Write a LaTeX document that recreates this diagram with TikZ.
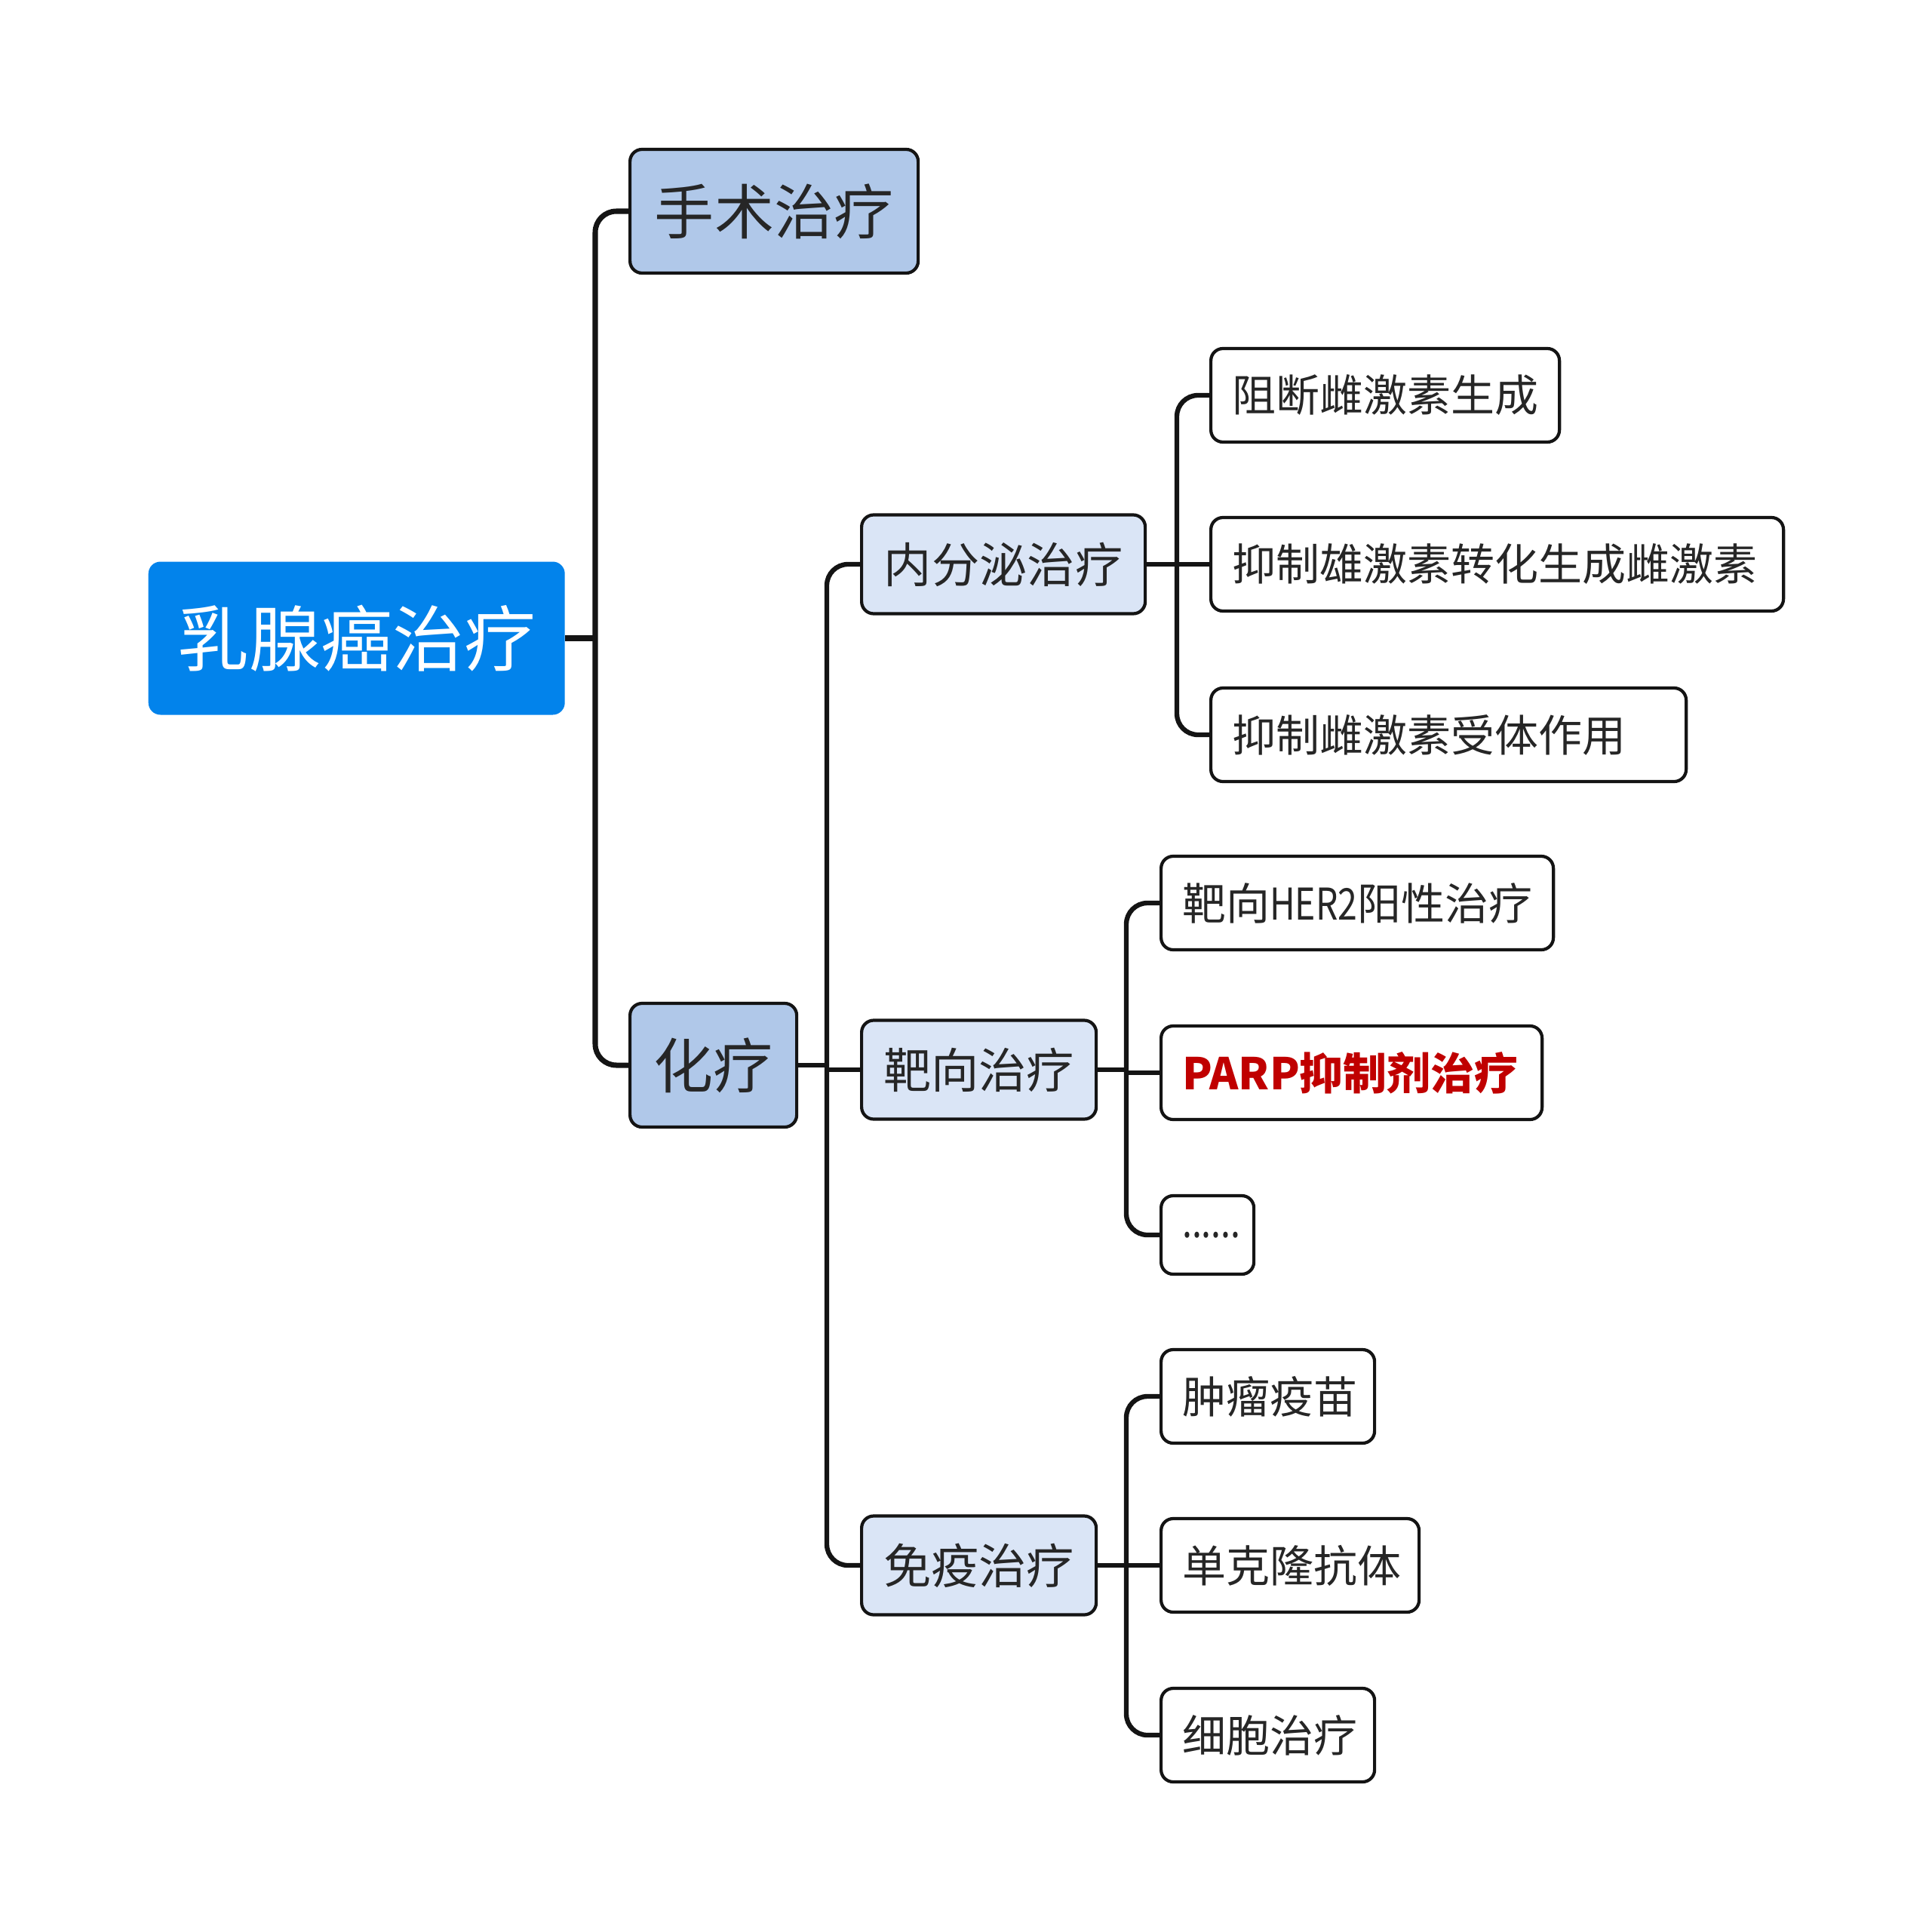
\documentclass[tikz,border=0pt]{standalone}
\usepackage{fontspec}
\newfontfamily\cjk{Noto Sans CJK SC}
\newfontfamily\cjknarrow[FakeStretch=0.8]{Noto Sans CJK SC}
\usepackage{tikz}
\usepackage{xcolor}

\definecolor{rootblue}{RGB}{2,131,235}
\definecolor{mainblue}{RGB}{176,200,233}
\definecolor{subblue}{RGB}{218,229,246}
\definecolor{linegray}{RGB}{20,20,20}
\definecolor{parpred}{RGB}{192,0,0}

\begin{document}
\begin{tikzpicture}[
    rootbox/.style={rounded corners=0.16cm, fill=rootblue, text=white, anchor=west, font=\cjk\fontsize{27}{32}\selectfont, minimum width=5.52cm, minimum height=2.03cm},
    mainbox/.style={draw=linegray, line width=1.2pt, rounded corners=0.16cm, fill=mainblue, text=black!85, anchor=west, font=\cjk\fontsize{22.5}{27}\selectfont, minimum height=1.64cm},
    subbox/.style={draw=linegray, line width=1.2pt, rounded corners=0.16cm, fill=subblue, text=black!85, anchor=west, font=\cjk\fontsize{18}{22}\selectfont, minimum height=1.31cm},
    leafbox/.style={draw=linegray, line width=1.2pt, rounded corners=0.16cm, fill=white, text=black!85, anchor=west, font=\cjk\fontsize{16.5}{20}\selectfont, minimum height=1.24cm, inner xsep=0.28cm, align=left},
    conn/.style={linegray, line width=1.8pt, rounded corners=0.28cm}
]
\useasboundingbox (0,0) rectangle (25.6,-25.61);

\node[rootbox] (root) at (1.96,-8.46) {乳腺癌治疗};

\node[mainbox, minimum width=3.82cm] (shoushu) at (8.33,-2.80) {手术治疗};
\node[mainbox, minimum width=2.21cm] (hualiao) at (8.33,-14.12) {化疗};

\node[subbox, minimum width=3.76cm] (neifenmi) at (11.40,-7.48) {内分泌治疗};
\node[subbox, minimum width=3.11cm] (baxiang) at (11.40,-14.18) {靶向治疗};
\node[subbox, minimum width=3.11cm] (mianyi) at (11.40,-20.75) {免疫治疗};

\node[leafbox, text width=4.06cm] (zuduan) at (16.03,-5.24) {阻断雌激素生成};
\node[leafbox, text width=7.03cm] (yizhixiong) at (16.03,-7.48) {抑制雄激素转化生成雌激素};
\node[leafbox, text width=5.74cm] (yizhishouti) at (16.03,-9.74) {抑制雌激素受体作用};

\node[leafbox, text width=4.64cm] (her2) at (15.37,-11.97) {靶向{\cjknarrow HER2}阳性治疗};
\node[leafbox, text width=4.49cm, text=parpred, font=\cjk\bfseries\fontsize{16.5}{20}\selectfont] (parp) at (15.37,-14.22) {PARP抑制剂治疗};
\node[leafbox, text width=0.67cm, minimum height=1.04cm] (more) at (15.37,-16.37) {\cjknarrow ......};

\node[leafbox, text width=2.27cm] (zhongliu) at (15.37,-18.51) {肿瘤疫苗};
\node[leafbox, text width=2.86cm] (dankelong) at (15.37,-20.75) {单克隆抗体};
\node[leafbox, text width=2.27cm] (xibao) at (15.37,-23.00) {细胞治疗};

\coordinate (s1) at (7.89,-8.46);
\coordinate (s2) at (10.96,-14.12);
\coordinate (s3) at (15.60,-7.48);
\coordinate (s4) at (14.93,-14.18);
\coordinate (s5) at (14.93,-20.75);

\draw[conn, line width=2pt] (root.east) -- (s1);
\draw[conn, line width=2pt] (shoushu.west) -| (s1) |- (hualiao.west);

\draw[conn] (hualiao.east) -- (s2);
\draw[conn] (neifenmi.west) -| (s2) |- (mianyi.west);
\draw[conn] (baxiang.west -| s2) -- (baxiang.west);

\draw[conn] (neifenmi.east) -- (yizhixiong.west);
\draw[conn] (zuduan.west) -| (s3) |- (yizhishouti.west);

\draw[conn] (baxiang.east) -- (s4);
\draw[conn] (parp.west -| s4) -- (parp.west);
\draw[conn] (her2.west) -| (s4) |- (more.west);

\draw[conn] (mianyi.east) -- (dankelong.west);
\draw[conn] (zhongliu.west) -| (s5) |- (xibao.west);
\end{tikzpicture}
\end{document}
